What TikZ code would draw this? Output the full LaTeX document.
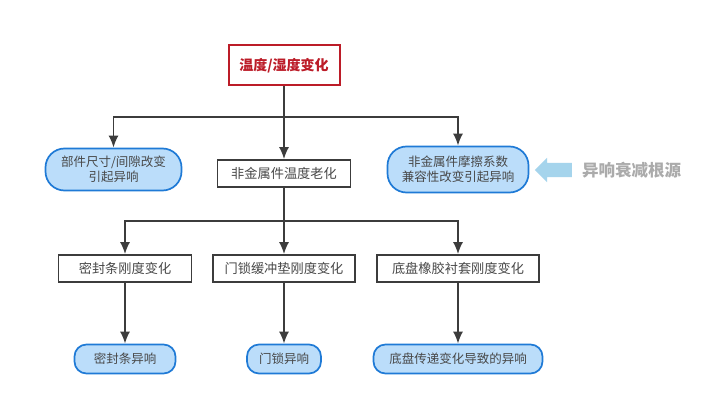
\documentclass[tikz,border=0pt]{standalone}
\usepackage{fontspec}
\setmainfont{Noto Sans CJK SC}
\usetikzlibrary{positioning,arrows.meta,shapes.arrows}

\definecolor{linegray}{HTML}{3C3C3C}
\definecolor{textgray}{HTML}{484848}
\definecolor{pillfill}{HTML}{BBDDFA}
\definecolor{pillline}{HTML}{1F7AD6}
\definecolor{topred}{HTML}{BC1C28}
\definecolor{markblue}{HTML}{A5D4EC}
\definecolor{markgray}{HTML}{ABABAB}

\tikzset{
	box/.style={draw=linegray,line width=1.7pt,fill=white,inner sep=0pt,text=textgray,font=\fontsize{13.2}{15}\selectfont},
	pill/.style={draw=pillline,line width=1.7pt,fill=pillfill,inner sep=0pt,rounded corners=12pt,align=center,text=textgray,font=\fontsize{12.5}{15}\selectfont},
	link/.style={draw=linegray,line width=1.7pt,-{Latex[length=12pt,width=10pt]}}
}

\begin{document}
\begin{tikzpicture}[x=1pt,y=1pt]
		\useasboundingbox[fill=white] (0,0) rectangle (720,-403);

		\node[box,draw=topred,line width=2pt,text=topred,font=\fontsize{14}{15}\selectfont\bfseries,minimum width=111pt,minimum height=40pt] (top) at (284,-65.5) {温度/湿度变化};
		\node[box,minimum width=133pt,minimum height=27pt] (aging) [below of=top,node distance=108pt] {非金属件温度老化};
		\node[pill,rounded corners=19pt,minimum width=136pt,minimum height=42pt] (gap) [left of=aging,node distance=170.5pt,yshift=4pt] {部件尺寸/间隙改变\\引起异响};
		\node[pill,rounded corners=19pt,minimum width=141pt,minimum height=46pt] (friction) [right of=aging,node distance=174pt,yshift=4pt] {非金属件摩擦系数\\兼容性改变引起异响};

		\node[box,minimum width=133pt,minimum height=27pt] (seal) [below of=aging,node distance=95pt,xshift=-159pt] {密封条刚度变化};
		\node[box,minimum width=142pt,minimum height=27pt] (lock) [below of=aging,node distance=95pt] {门锁缓冲垫刚度变化};
		\node[box,minimum width=162pt,minimum height=27pt] (bush) [below of=aging,node distance=95pt,xshift=174pt] {底盘橡胶衬套刚度变化};

		\node[pill,minimum width=101pt,minimum height=29pt] (sealnoise) [below of=seal,node distance=90.5pt] {密封条异响};
		\node[pill,minimum width=74pt,minimum height=29pt] (locknoise) [below of=lock,node distance=90.5pt] {门锁异响};
		\node[pill,minimum width=169pt,minimum height=29pt] (bushnoise) [below of=bush,node distance=90.5pt] {底盘传递变化导致的异响};

		\node[single arrow,shape border rotate=180,fill=markblue,inner xsep=0pt,inner ysep=7pt,minimum height=37pt,single arrow head extend=5pt] (mark) at (557,-170) {};
		\node[text=markgray,font=\fontsize{16.5}{18}\selectfont\bfseries] (root) [right of=mark,node distance=74.5pt] {异响衰减根源};

		\coordinate[below of=top,node distance=51.5pt] (bus1);
		\coordinate[below of=aging,node distance=47.5pt] (bus2);

		\path[link] (top) -- (aging);
		\path[link] (bus1) -| (gap);
		\path[link] (bus1) -| (friction);
		\path[link] (aging) -- (lock);
		\path[link] (bus2) -| (seal);
		\path[link] (bus2) -| (bush);
		\path[link] (seal) -- (sealnoise);
		\path[link] (lock) -- (locknoise);
		\path[link] (bush) -- (bushnoise);
	\end{tikzpicture}
\end{document}
